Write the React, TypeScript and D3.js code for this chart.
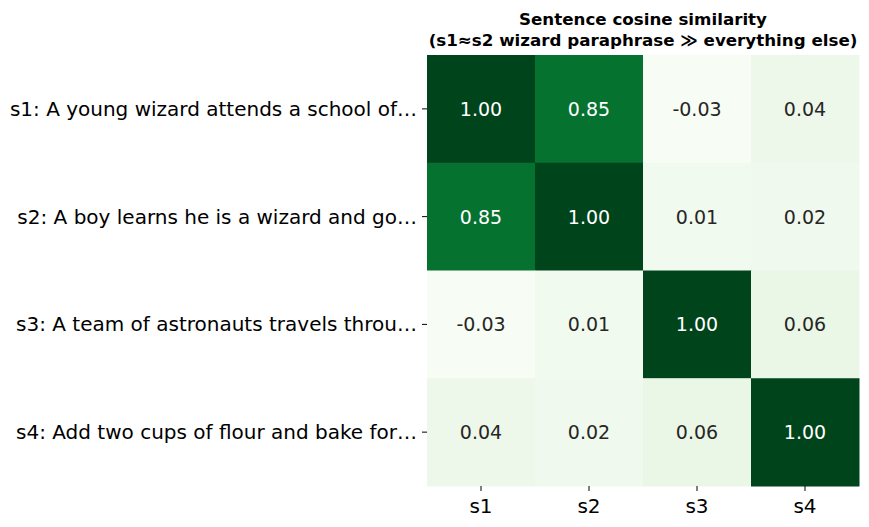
import React from "react";
import * as d3 from "d3";

const rowLabels = [
  "s1: A young wizard attends a school of…",
  "s2: A boy learns he is a wizard and go…",
  "s3: A team of astronauts travels throu…",
  "s4: Add two cups of flour and bake for…",
];
const colLabels = ["s1", "s2", "s3", "s4"];
const row1 = [1.0, 0.85, -0.03, 0.04];
const row2 = [0.85, 1.0, 0.01, 0.02];
const row3 = [-0.03, 0.01, 1.0, 0.06];
const row4 = [0.04, 0.02, 0.06, 1.0];
const matrix = [row1, row2, row3, row4];
const titleLines = [
  "Sentence cosine similarity",
  "(s1≈s2 wizard paraphrase ≫ everything else)",
];

const greens = ["#f7fcf5", "#e5f5e0", "#c7e9c0", "#a1d99b", "#74c476", "#41ab5d", "#238b45", "#006d2c", "#00441b"];

export default function App() {
  const W = 869, H = 527;
  const left = 427, right = 859, top = 55, bottom = 486;
  const x = d3.scaleBand<string>().domain(colLabels).range([left, right]);
  const y = d3.scaleBand<string>().domain(rowLabels).range([top, bottom]);
  const all = matrix.flat();
  const vmin = d3.min(all) as number;
  const vmax = d3.max(all) as number;
  const t = d3.scaleLinear().domain([vmin, vmax]).range([0, 1]).clamp(true);
  const cmap = d3.scaleLinear<string>().domain(d3.range(9).map((i) => i / 8)).range(greens).interpolate(d3.interpolateRgb);
  const font = "DejaVu Sans, sans-serif";
  return (
    <svg width={W} height={H} style={{ position: "absolute", left: 0, top: 0 }} fontFamily={font}>
      <rect width={W} height={H} fill="#fff" />
      {matrix.map((row, i) =>
        row.map((v, j) => {
          const c = cmap(t(v));
          const rgb = d3.rgb(c);
          const L = 0.2126 * rgb.r + 0.7152 * rgb.g + 0.0722 * rgb.b;
          return (
            <g key={`${i}-${j}`}>
              <rect x={x(colLabels[j])} y={y(rowLabels[i])} width={x.bandwidth() + 0.5} height={y.bandwidth() + 0.5} fill={c} />
              <text
                x={(x(colLabels[j]) as number) + x.bandwidth() / 2}
                y={(y(rowLabels[i]) as number) + y.bandwidth() / 2}
                textAnchor="middle"
                dominantBaseline="central"
                fontSize={19}
                fill={L < 128 ? "#ffffff" : "#262626"}
              >
                {v.toFixed(2)}
              </text>
            </g>
          );
        })
      )}
      {rowLabels.map((r) => {
        const cy = (y(r) as number) + y.bandwidth() / 2;
        return (
          <g key={r}>
            <line x1={left - 5} x2={left} y1={cy} y2={cy} stroke="#000" strokeWidth={1} />
            <text x={left - 10} y={cy} textAnchor="end" dominantBaseline="central" fontSize={20} fill="#000">
              {r}
            </text>
          </g>
        );
      })}
      {colLabels.map((c) => {
        const cx = (x(c) as number) + x.bandwidth() / 2;
        return (
          <g key={c}>
            <line x1={cx} x2={cx} y1={bottom} y2={bottom + 5} stroke="#000" strokeWidth={1} />
            <text x={cx} y={bottom + 20} textAnchor="middle" dominantBaseline="central" fontSize={20} fill="#000">
              {c}
            </text>
          </g>
        );
      })}
      {titleLines.map((l, i) => (
        <text key={i} x={(left + right) / 2} y={19 + i * 21} textAnchor="middle" dominantBaseline="central" fontSize={16.7} fontWeight="bold" fill="#000">
          {l}
        </text>
      ))}
    </svg>
  );
}
